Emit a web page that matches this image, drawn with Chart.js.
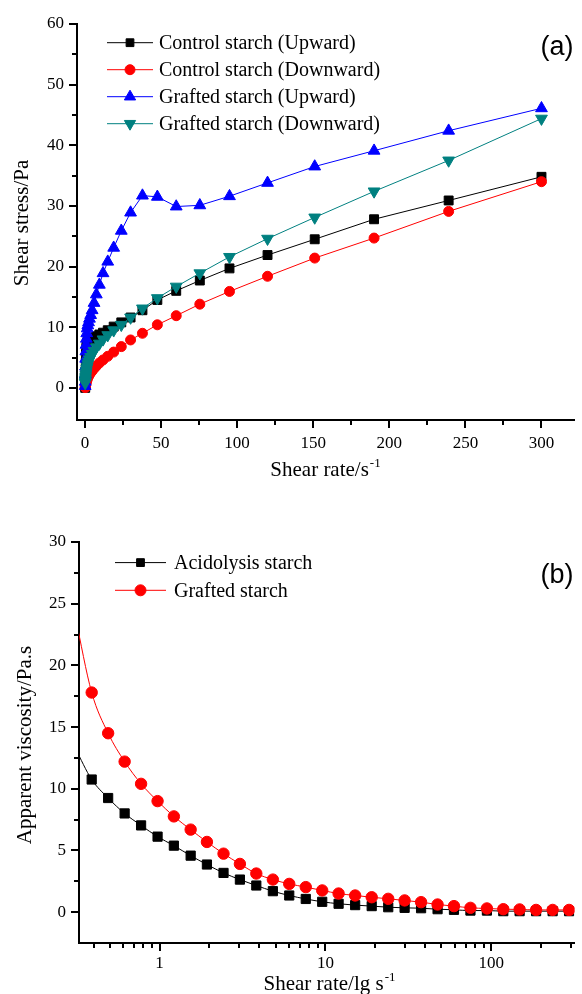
<!DOCTYPE html>
<html>
<head>
<meta charset="utf-8">
<script src="https://cdn.jsdelivr.net/npm/chart.js@4/dist/chart.umd.min.js"></script>
<style>
  html, body { margin: 0; padding: 0; background: #fff; }
  #wrap { position: relative; width: 582px; height: 994px; }
  canvas { position: absolute; left: 0; }
</style>
</head>
<body>
<div id="wrap">
  <canvas id="flow-chart" width="582" height="490" style="top:0px"></canvas>
  <canvas id="visc-chart" width="582" height="504" style="top:490px"></canvas>
</div>
<script>
// (a) shear stress vs shear rate
const flowRates = [0.19, 0.24, 0.3, 0.38, 0.48, 0.6, 0.75, 0.95, 1.19, 1.5, 1.89, 2.38, 3.0, 3.77, 4.75, 6.0, 7.5, 9.5, 11.9, 15, 18.9, 23.9, 30, 37.8, 47.6, 60, 75.5, 95, 120, 151, 190, 239, 300];
const controlUp = [0, 0.3, 0.8, 1.6, 2.8, 4.2, 5.6, 6.6, 7.2, 7.5, 7.7, 7.8, 7.9, 8.0, 8.1, 8.3, 8.5, 8.8, 9.1, 9.5, 10.1, 10.8, 11.6, 12.8, 14.5, 16.0, 17.7, 19.7, 21.9, 24.5, 27.8, 30.9, 34.8];
const controlDown = [0.05, 0.1, 0.2, 0.3, 0.4, 0.6, 0.8, 1.0, 1.2, 1.4, 1.7, 1.9, 2.2, 2.5, 2.8, 3.2, 3.6, 4.1, 4.6, 5.2, 5.9, 6.8, 7.9, 9.0, 10.4, 11.9, 13.8, 15.9, 18.4, 21.4, 24.7, 29.1, 34.0];
const graftedUp = [0.3, 1.0, 2.2, 3.5, 4.8, 6.0, 7.1, 8.1, 9.0, 9.8, 10.3, 10.8, 11.4, 12.0, 12.8, 14.0, 15.4, 17.0, 18.9, 20.8, 23.1, 25.9, 28.9, 31.7, 31.5, 29.9, 30.1, 31.6, 33.8, 36.5, 39.1, 42.4, 46.1];
const graftedDown = [0.8, 1.0, 1.3, 1.6, 1.9, 2.2, 2.5, 2.8, 3.2, 3.5, 3.9, 4.3, 4.7, 5.1, 5.6, 6.1, 6.7, 7.3, 8.0, 8.7, 9.5, 10.4, 11.6, 13.1, 14.8, 16.7, 18.9, 21.6, 24.6, 28.1, 32.4, 37.5, 44.4];
const flowXTicks = [0, 25, 50, 75, 100, 125, 150, 175, 200, 225, 250, 275, 300];
const flowYTicks = [0, 5, 10, 15, 20, 25, 30, 35, 40, 45, 50, 55, 60];

// (b) apparent viscosity vs shear rate (log)
const viscRates = [0.31, 0.39, 0.49, 0.616, 0.774, 0.973, 1.22, 1.54, 1.93, 2.43, 3.05, 3.83, 4.82, 6.05, 7.61, 9.56, 12.0, 15.1, 19.0, 23.9, 30.0, 37.7, 47.4, 59.5, 74.8, 94.0, 118, 148, 186, 234, 294];
const acidolysis = [13.3, 10.75, 9.25, 8.0, 7.03, 6.12, 5.39, 4.58, 3.86, 3.18, 2.64, 2.16, 1.70, 1.35, 1.07, 0.84, 0.68, 0.57, 0.49, 0.40, 0.35, 0.32, 0.24, 0.19, 0.13, 0.13, 0.08, 0.08, 0.08, 0.08, 0.08];
const grafted = [24.0, 17.8, 14.5, 12.2, 10.4, 9.0, 7.76, 6.69, 5.69, 4.74, 3.91, 3.13, 2.64, 2.29, 2.03, 1.76, 1.51, 1.35, 1.21, 1.08, 0.95, 0.81, 0.62, 0.49, 0.35, 0.30, 0.24, 0.22, 0.18, 0.18, 0.18];
const viscXTicks = [0.4, 0.5, 0.6, 0.7, 0.8, 0.9, 1, 2, 3, 4, 5, 6, 7, 8, 9, 10, 20, 30, 40, 50, 60, 70, 80, 90, 100, 200, 300];
const viscYTicks = [0, 2.5, 5, 7.5, 10, 12.5, 15, 17.5, 20, 22.5, 25, 27.5, 30];

const serif = "'Liberation Serif', 'Times New Roman', serif";
const sans = "'Liberation Sans', Arial, sans-serif";

function pairs(xs, ys) {
  return xs.map((x, i) => ({x: x, y: ys[i]}));
}

function series(label, color, style, radius, xs, ys, extra) {
  return Object.assign({
    label: label,
    data: pairs(xs, ys),
    borderColor: color,
    backgroundColor: color,
    pointBackgroundColor: color,
    pointBorderColor: color,
    pointBorderWidth: 1,
    borderWidth: 1,
    pointStyle: style,
    pointRadius: radius,
    pointHoverRadius: radius,
    tension: 0
  }, extra || {});
}

// draws tick marks, axis titles, legend and the panel letter
function makeDecor(o) {
  return {
    id: 'decor',
    afterDraw(chart) {
      const ctx = chart.ctx;
      const area = chart.chartArea;
      const xs = chart.scales.x, ys = chart.scales.y;
      ctx.save();
      // ticks
      ctx.strokeStyle = '#000';
      ctx.lineWidth = 2;
      ctx.beginPath();
      for (const t of xs.ticks) {
        const px = Math.round(xs.getPixelForValue(t.value));
        const len = o.majorX(t.value) ? 8 : 5;
        ctx.moveTo(px, area.bottom);
        ctx.lineTo(px, area.bottom + len);
      }
      for (const t of ys.ticks) {
        const py = Math.round(ys.getPixelForValue(t.value));
        const len = o.majorY(t.value) ? 8 : 5;
        ctx.moveTo(area.left, py);
        ctx.lineTo(area.left - len, py);
      }
      ctx.stroke();

      // x title with superscript
      ctx.fillStyle = '#000';
      ctx.textBaseline = 'alphabetic';
      ctx.textAlign = 'left';
      ctx.font = '21px ' + serif;
      const mainW = ctx.measureText(o.xTitle).width;
      ctx.font = '13px ' + serif;
      const supW = ctx.measureText(o.xSup).width;
      const tx = o.xTitleCenter - (mainW + supW) / 2;
      ctx.font = '21px ' + serif;
      ctx.fillText(o.xTitle, tx, area.bottom + o.xTitleOffset);
      ctx.font = '13px ' + serif;
      ctx.fillText(o.xSup, tx + mainW + 1, area.bottom + o.xTitleOffset - 9);

      // y title
      ctx.save();
      ctx.translate(o.yTitleX, o.yTitleCenter);
      ctx.rotate(-Math.PI / 2);
      ctx.font = '21px ' + serif;
      ctx.textAlign = 'center';
      ctx.fillText(o.yTitle, 0, 0);
      ctx.restore();

      // legend
      ctx.font = '20px ' + serif;
      ctx.textAlign = 'left';
      ctx.textBaseline = 'middle';
      chart.data.datasets.forEach((ds, i) => {
        const y = area.top + o.legendTop + i * o.legendStep;
        ctx.strokeStyle = ds.borderColor;
        ctx.lineWidth = 1;
        ctx.beginPath();
        ctx.moveTo(o.legendX0, y);
        ctx.lineTo(o.legendX1, y);
        ctx.stroke();
        ctx.fillStyle = ds.pointBackgroundColor;
        ctx.strokeStyle = ds.pointBorderColor;
        Chart.helpers.drawPoint(ctx, {
          pointStyle: ds.pointStyle,
          rotation: ds.pointRotation || 0,
          radius: o.legendRadius[i],
          borderWidth: 1
        }, (o.legendX0 + o.legendX1) / 2, y);
        ctx.fillStyle = '#000';
        ctx.fillText(ds.label, o.legendText, y + 1);
      });

      // panel letter
      ctx.font = '27px ' + sans;
      ctx.textAlign = 'center';
      ctx.fillText(o.panel, o.panelX, o.panelY);
      ctx.restore();
    }
  };
}

const tickFont = {family: serif, size: 17};

new Chart(document.getElementById('flow-chart').getContext('2d'), {
  type: 'line',
  data: {
    datasets: [
      series('Control starch (Upward)', '#000000', 'rect', 6.3, flowRates, controlUp, {order: 3}),
      series('Control starch (Downward)', '#ff0000', 'circle', 5, flowRates, controlDown, {order: 2}),
      series('Grafted starch (Upward)', '#0000ff', 'triangle', 6.8, flowRates, graftedUp, {order: 1}),
      series('Grafted starch (Downward)', '#008080', 'triangle', 6.8, flowRates, graftedDown, {order: 0, pointRotation: 180})
    ]
  },
  options: {
    responsive: false,
    animation: false,
    events: [],
    layout: {padding: {top: 24, right: 1, left: 0, bottom: 0}},
    scales: {
      x: {
        type: 'linear', min: -5.2, max: 321.5, bounds: 'data',
        afterBuildTicks: s => { s.ticks = flowXTicks.map(v => ({value: v})); },
        afterFit: s => { s.height = 70; },
        grid: {display: false, tickLength: 8},
        border: {display: true, color: '#000', width: 2},
        ticks: {autoSkip: false, maxRotation: 0, padding: 5, color: '#000', font: tickFont,
          callback: v => v % 50 === 0 ? String(v) : ''}
      },
      y: {
        type: 'linear', min: -5.3, max: 60, bounds: 'data',
        afterBuildTicks: s => { s.ticks = flowYTicks.map(v => ({value: v})); },
        afterFit: s => { s.width = 77; },
        grid: {display: false, tickLength: 8},
        border: {display: true, color: '#000', width: 2},
        ticks: {autoSkip: false, padding: 5, color: '#000', font: tickFont,
          callback: v => v % 10 === 0 ? String(v) : ''}
      }
    },
    plugins: {legend: {display: false}, tooltip: {enabled: false}}
  },
  plugins: [makeDecor({
    majorX: v => v % 50 === 0,
    majorY: v => v % 10 === 0,
    xTitle: 'Shear rate/s', xSup: '-1', xTitleCenter: 325, xTitleOffset: 56,
    yTitle: 'Shear stress/Pa', yTitleX: 28, yTitleCenter: 223,
    legendTop: 18.7, legendStep: 27, legendX0: 107, legendX1: 153, legendText: 159,
    legendRadius: [5.5, 5, 6.5, 6.5],
    panel: '(a)', panelX: 557, panelY: 48
  })]
});

new Chart(document.getElementById('visc-chart').getContext('2d'), {
  type: 'line',
  data: {
    datasets: [
      series('Acidolysis starch', '#000000', 'rect', 6.5, viscRates, acidolysis,
        {order: 1, cubicInterpolationMode: 'monotone', pointRadius: c => c.dataIndex === 0 ? 0 : 6.5}),
      series('Grafted starch', '#ff0000', 'circle', 5.7, viscRates, grafted,
        {order: 0, cubicInterpolationMode: 'monotone', pointRadius: c => c.dataIndex === 0 ? 0 : 5.7})
    ]
  },
  options: {
    responsive: false,
    animation: false,
    events: [],
    layout: {padding: {top: 52, right: 1, left: 0, bottom: 0}},
    scales: {
      x: {
        type: 'logarithmic', min: 0.327, max: 317, bounds: 'data',
        afterBuildTicks: s => { s.ticks = viscXTicks.map(v => ({value: v})); },
        afterFit: s => { s.height = 51; },
        grid: {display: false, tickLength: 8},
        border: {display: true, color: '#000', width: 2},
        ticks: {autoSkip: false, maxRotation: 0, padding: 2, color: '#000', font: tickFont,
          callback: v => (v === 1 || v === 10 || v === 100) ? String(v) : ''}
      },
      y: {
        type: 'linear', min: -2.5, max: 30, bounds: 'data',
        afterBuildTicks: s => { s.ticks = viscYTicks.map(v => ({value: v})); },
        afterFit: s => { s.width = 79; },
        grid: {display: false, tickLength: 8},
        border: {display: true, color: '#000', width: 2},
        ticks: {autoSkip: false, padding: 5, color: '#000', font: tickFont,
          callback: v => v % 5 === 0 ? String(v) : ''}
      }
    },
    plugins: {legend: {display: false}, tooltip: {enabled: false}}
  },
  plugins: [makeDecor({
    majorX: v => v === 1 || v === 10 || v === 100,
    majorY: v => v % 5 === 0,
    xTitle: 'Shear rate/lg s', xSup: '-1', xTitleCenter: 329, xTitleOffset: 47,
    yTitle: 'Apparent viscosity/Pa.s', yTitleX: 31, yTitleCenter: 255,
    legendTop: 20.6, legendStep: 27.7, legendX0: 115, legendX1: 166, legendText: 174,
    legendRadius: [5.5, 5.5],
    panel: '(b)', panelX: 557, panelY: 86
  })]
});
</script>
</body>
</html>
